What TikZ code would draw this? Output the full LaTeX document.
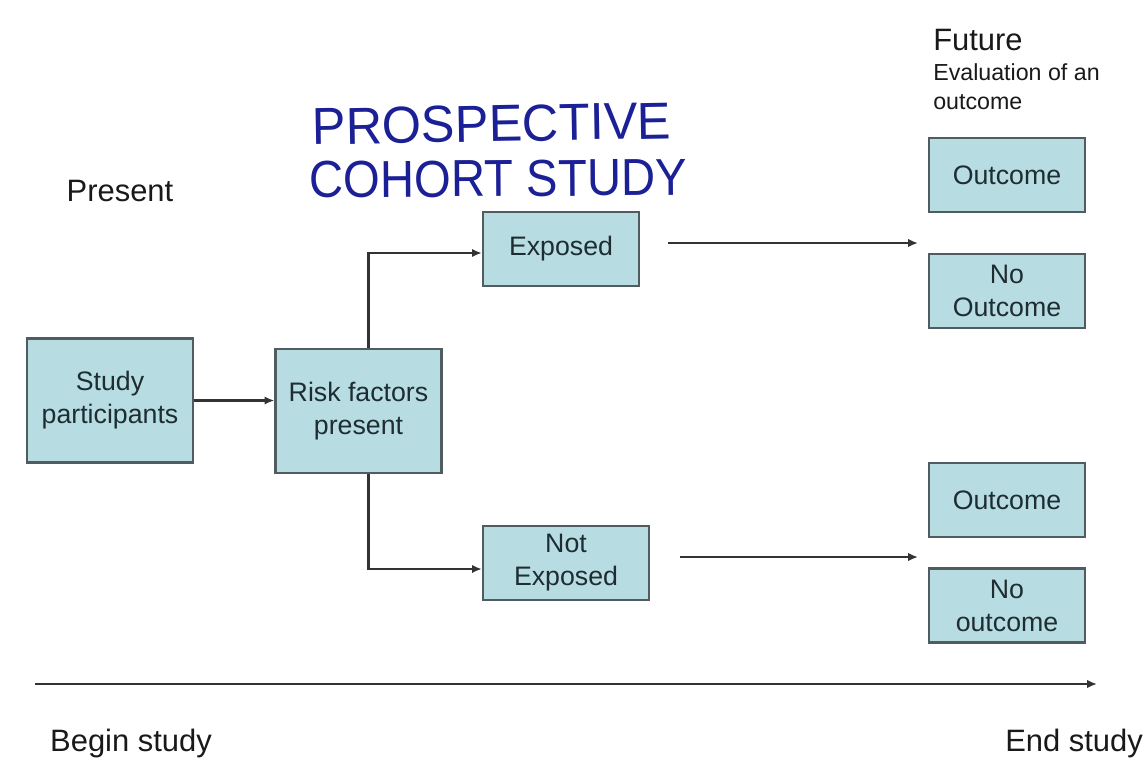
\documentclass[tikz,border=0pt]{standalone}
\usepackage{fontspec}
\setmainfont{Liberation Sans}
\usetikzlibrary{arrows.meta}
\definecolor{boxfill}{RGB}{183,221,227}
\definecolor{boxline}{RGB}{80,92,96}
\definecolor{boxtext}{RGB}{30,45,50}
\definecolor{labeltext}{RGB}{25,25,25}
\definecolor{inkblue}{RGB}{28,32,150}
\begin{document}
\begin{tikzpicture}[x=0.025cm,y=-0.025cm,
  box/.style={draw=boxline, fill=boxfill, line width=1.6pt, text=boxtext,
    font=\fontsize{19}{23.5}\selectfont, align=center, inner sep=0pt},
  wide/.style={minimum width=4.15cm},
  narrow/.style={minimum width=3.9cm},
  short/.style={minimum height=1.85cm},
  tall/.style={minimum height=3.1cm},
  arr/.style={draw=black!80, line width=1.6pt, -{Latex[length=7pt,width=6pt]}},
  caption/.style={text=labeltext, font=\fontsize{22}{26}\selectfont, inner sep=0pt},
  ink/.style={text=inkblue, font=\fontsize{37}{40}\selectfont, inner sep=0pt, anchor=west}
]
\useasboundingbox (0,0) rectangle (1144,759);

% boxes
\node[box, wide, tall]    (sp)  at (110,400.5) {Study\\participants};
\node[box, wide, tall]    (rf)  at (358.5,411) {Risk factors\\present};
\node[box, narrow, short] (ex)  at (561,249)   {Exposed};
\node[box, wide, short]   (nex) at (566,563)   {Not\\Exposed};
\node[box, narrow, short] (o1)  at (1007,175)  {Outcome};
\node[box, narrow, short] (n1)  at (1007,291)  {No\\Outcome};
\node[box, narrow, short] (o2)  at (1007,500)  {Outcome};
\node[box, narrow, short] (n2)  at (1007,605.5) {No\\outcome};

% captions
\node[caption] (present) at (120,191) {Present};
\node[caption, anchor=west] (future) at (933,40) {Future};
\node[text=labeltext, font=\fontsize{16.5}{21}\selectfont, inner sep=0pt,
      anchor=north west, align=left] (eval) at (933,63) {Evaluation of an\\outcome};
\node[caption] (begin) at (131,743) {Begin study};
\node[caption, anchor=west] (end) at (1005,743) {End study};

% handwritten title
\node[ink, xscale=0.97, rotate=1] (title1) at (312,127) {PROSPECTIVE};
\node[ink, xscale=0.91, rotate=0.4] (title2) at (309,180) {COHORT STUDY};

% connectors
\draw[arr] (sp.east) -- (sp.east -| rf.west);
\draw[arr] ([xshift=0.25cm]rf.north) |- ([yshift=-0.1cm]ex.west);
\draw[arr] ([xshift=0.25cm]rf.south) |- ([yshift=-0.15cm]nex.west);

\coordinate (exs) at (668,243);
\coordinate (exe) at (918,243);
\coordinate (nxs) at (680,557);
\coordinate (nxe) at (918,557);
\draw[arr] (exs) -- (exe);
\draw[arr] (nxs) -- (nxe);

% time axis
\coordinate (t0) at (35,684);
\coordinate (t1) at (1097,684);
\draw[arr] (t0) -- (t1);
\end{tikzpicture}
\end{document}
